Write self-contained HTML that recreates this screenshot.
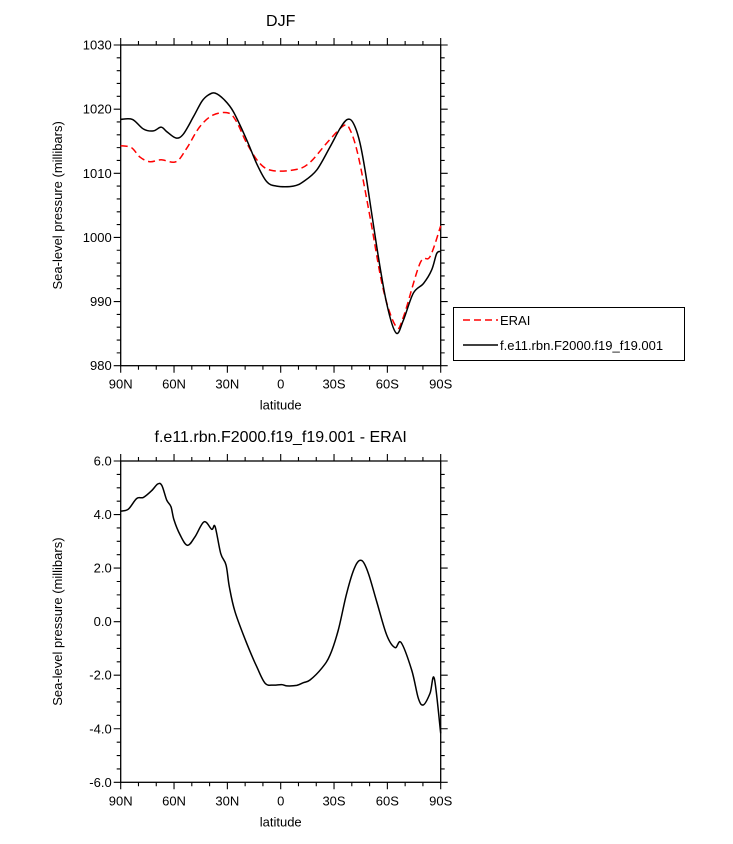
<!DOCTYPE html>
<html><head><meta charset="utf-8"><style>
body{margin:0;background:#fff}
svg{display:block;font-family:"Liberation Sans",sans-serif}
</style></head><body>
<svg id="c" width="733" height="844" viewBox="0 0 733 844"></svg>
<script>
const xTickLabels=["90N","60N","30N","0","30S","60S","90S"];
const xTickLats=[90,60,30,0,-30,-60,-90];
const topYTicks=[980,990,1000,1010,1020,1030];
const botYTicks=[-6,-4,-2,0,2,4,6];
const botYTickLabels=["-6.0","-4.0","-2.0","0.0","2.0","4.0","6.0"];
const modelLat=[90,83.4,77.25,71.6,67.3,64.1,58.9,54.8,49.1,44.4,40.7,36.9,31.9,26.6,19.1,13.5,7.9,2.3,-7.1,-12.75,-20.25,-27.75,-33.4,-37.5,-40.9,-44.6,-48.4,-54,-59.6,-64.9,-69,-74.6,-80.25,-84.9,-87.75,-90];
const modelSLP=[1018.4,1018.4,1016.9,1016.6,1017.2,1016.5,1015.5,1016.1,1018.8,1021.2,1022.2,1022.5,1021.5,1019.6,1015.2,1011.5,1008.7,1008.0,1008.0,1008.7,1010.5,1014.1,1017.0,1018.4,1017.8,1014.7,1008.9,998.6,989.7,985.1,987.1,991.3,992.8,994.9,997.5,997.8];
const eraiLat=[90,84,79.1,73.5,67.3,58.9,52.9,45.4,37.9,29.4,24.75,19.1,11.6,4.1,-9,-16.5,-25.9,-35.25,-39,-43.7,-50.25,-57.75,-64.9,-69,-78.4,-84,-90];
const eraiSLP=[1014.3,1014.0,1012.5,1011.8,1012.1,1011.8,1013.9,1017.3,1019.1,1019.4,1018.0,1014.7,1011.5,1010.4,1010.6,1011.7,1014.7,1017.4,1016.8,1012.6,1003.2,991.8,986.1,987.6,996.0,997.0,1001.8];
const diffLat=[90,85.7,81,77.25,72.6,69.2,66.9,64.1,61.7,60,56.6,52.5,48.2,43.1,38.8,36.9,33.75,30.75,28.9,25.7,19.1,13.5,8.8,4.1,-0.6,-3.4,-9,-12.75,-16.5,-23.1,-27.75,-32.4,-37.1,-41.8,-45.6,-49.3,-54,-59.6,-64.3,-67.7,-73.7,-77.4,-80.25,-84,-86.4,-90];
const diffVal=[4.13,4.2,4.6,4.64,4.89,5.14,5.09,4.54,4.29,3.8,3.24,2.85,3.17,3.73,3.45,3.55,2.55,2.12,1.31,0.37,-0.81,-1.68,-2.30,-2.37,-2.35,-2.40,-2.38,-2.28,-2.18,-1.74,-1.25,-0.31,1.06,2.05,2.28,1.81,0.75,-0.50,-0.97,-0.78,-1.81,-2.86,-3.11,-2.68,-2.12,-4.17];

const svg=document.getElementById('c');
const NS='http://www.w3.org/2000/svg';
function mk(tag,attrs,parent){const e=document.createElementNS(NS,tag);for(const k in attrs)e.setAttribute(k,attrs[k]);(parent||svg).appendChild(e);return e;}
const X0=120.7,X1=440.7;
function xs(lat){return X0+(90-lat)/180*(X1-X0);}

function panel(name,top,bot,ymin,ymax,yticks,ylabels,minorStep,title){
  const g=mk('g',{});
  
  
  const ys=v=>bot-(v-ymin)/(ymax-ymin)*(bot-top);
  const fr=mk('rect',{x:X0,y:top,width:X1-X0,height:bot-top,fill:'none',stroke:'#000','stroke-width':1.3},g);
  
  
  let d='';
  for(let lat=90;lat>=-90;lat-=10){const x=xs(lat);const L=(lat%30===0)?7:4;d+=`M${x},${bot}v${L}M${x},${top}v${-L}`;}
  for(let v=ymin;v<=ymax+1e-6;v+=minorStep){const y=ys(v);const maj=yticks.some(t=>Math.abs(t-v)<1e-6);const L=maj?7:4;d+=`M${X0},${y}h${-L}M${X1},${y}h${L}`;}
  const tk=mk('path',{d:d,stroke:'#000','stroke-width':1.1,fill:'none'},g);
  
  
  xTickLabels.forEach((t,i)=>{const e=mk('text',{x:xs(xTickLats[i]),y:bot+23,'text-anchor':'middle','font-size':13},g);e.textContent=t;
    
    });
  yticks.forEach((v,i)=>{const e=mk('text',{x:X0-9,y:ys(v)+4.5,'text-anchor':'end','font-size':13},g);e.textContent=ylabels[i];
    
    });
  const xt=mk('text',{x:(X0+X1)/2,y:bot+44,'text-anchor':'middle','font-size':13},g);xt.textContent='latitude';
  
  
  const cy=(top+bot)/2;
  const yt=mk('text',{x:62,y:cy,'text-anchor':'middle','font-size':13,transform:`rotate(-90 62 ${cy})`},g);yt.textContent='Sea-level pressure (millibars)';
  
  
  const tt=mk('text',{x:(X0+X1)/2,y:top-19,'text-anchor':'middle','font-size':16},g);tt.textContent=title;
  
  
  return ys;
}
function line(lats,vals,ys,attrs,name){
  const P=lats.map((l,i)=>[xs(l),ys(vals[i])]);
  let d=`M${P[0][0].toFixed(1)},${P[0][1].toFixed(1)}`;
  for(let i=0;i<P.length-1;i++){
    const p0=P[Math.max(0,i-1)],p1=P[i],p2=P[i+1],p3=P[Math.min(P.length-1,i+2)];
    const c1=[p1[0]+(p2[0]-p0[0])/6,p1[1]+(p2[1]-p0[1])/6];
    const c2=[p2[0]-(p3[0]-p1[0])/6,p2[1]-(p3[1]-p1[1])/6];
    d+=`C${c1[0].toFixed(1)},${c1[1].toFixed(1)} ${c2[0].toFixed(1)},${c2[1].toFixed(1)} ${p2[0].toFixed(1)},${p2[1].toFixed(1)}`;
  }
  const p=mk('path',Object.assign({d:d,fill:'none','stroke-linejoin':'round'},attrs));
  
  
}
const ys1=panel('top-panel',45,365.7,980,1030,topYTicks,topYTicks.map(String),2,'DJF');
line(eraiLat,eraiSLP,ys1,{stroke:'#f00','stroke-width':1.5,'stroke-dasharray':'7,4'},'erai-line');
line(modelLat,modelSLP,ys1,{stroke:'#000','stroke-width':1.5},'model-line');
const ys2=panel('bottom-panel',461,782.3,-6,6,botYTicks,botYTickLabels,0.5,'f.e11.rbn.F2000.f19_f19.001 - ERAI');
line(diffLat,diffVal,ys2,{stroke:'#000','stroke-width':1.5},'difference-line');

const lg=mk('g',{});


mk('rect',{x:453.5,y:307.5,width:231,height:53,fill:'#fff',stroke:'#000','stroke-width':1},lg);
mk('line',{x1:463,y1:320,x2:498,y2:320,stroke:'#f00','stroke-width':1.5,'stroke-dasharray':'7,4'},lg);
const l1=mk('text',{x:500,y:325,'font-size':13},lg);l1.textContent='ERAI';


mk('line',{x1:463,y1:345,x2:498,y2:345,stroke:'#000','stroke-width':1.5},lg);
const l2=mk('text',{x:500,y:350,'font-size':13},lg);l2.textContent='f.e11.rbn.F2000.f19_f19.001';


</script>
</body></html>
